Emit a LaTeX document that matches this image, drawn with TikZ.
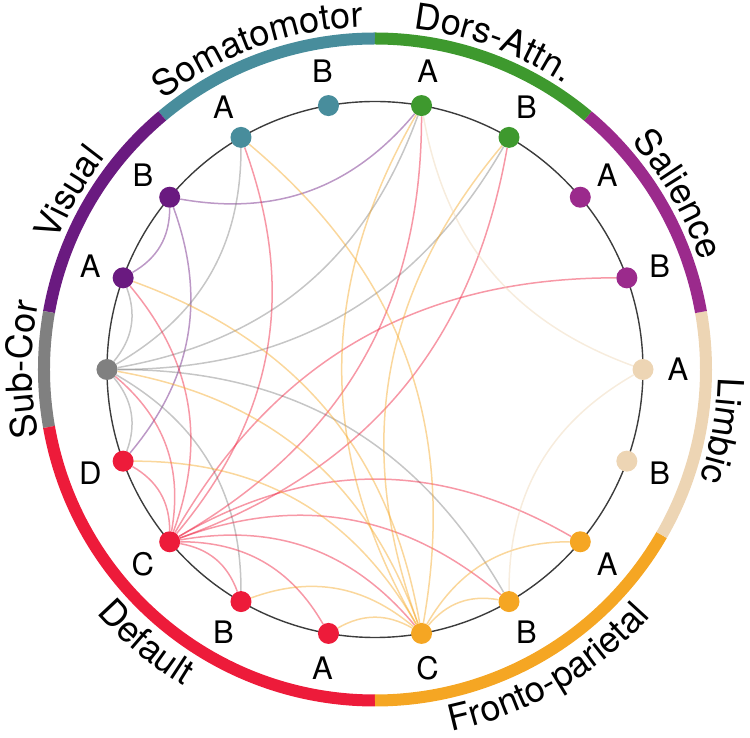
\documentclass[tikz,border=0pt]{standalone}
\usepackage{fontspec}
\setmainfont{TeX Gyre Heros}
\usetikzlibrary{decorations.text}

\definecolor{smcol}{RGB}{72,141,156}
\definecolor{vicol}{RGB}{106,26,128}
\definecolor{sccol}{RGB}{128,128,128}
\definecolor{dfcol}{RGB}{237,27,58}
\definecolor{fpcol}{RGB}{245,166,35}
\definecolor{lbcol}{RGB}{237,213,180}
\definecolor{sacol}{RGB}{155,42,140}
\definecolor{dacol}{RGB}{62,153,46}
\definecolor{rimcol}{RGB}{60,60,60}
\newcommand{\grpfont}{\fontsize{36}{42}\selectfont}

\begin{document}
\begin{tikzpicture}[x=1pt,y=1pt,
  nd/.style={circle,fill=#1,inner sep=0pt,minimum size=21pt},
  lab/.style={font=\fontsize{31}{36}\selectfont,inner sep=0pt},
  seg/.style={line width=12pt,draw=#1},
  lnk/.style={line width=1.5pt,draw=#1,draw opacity=.45,bend left=30},
  grp/.style={decorate,decoration={text along path,text align=center,text={|\grpfont|#1}}}]
  \useasboundingbox (-375,-368.5) rectangle (375,369.5);
  % outer ring
  \draw[seg=smcol] (130:331) arc[start angle=130,end angle=90,radius=331];
  \draw[seg=vicol] (170:331) arc[start angle=170,end angle=130,radius=331];
  \draw[seg=sccol] (190:331) arc[start angle=190,end angle=170,radius=331];
  \draw[seg=dfcol] (270:331) arc[start angle=270,end angle=190,radius=331];
  \draw[seg=fpcol] (330:331) arc[start angle=330,end angle=270,radius=331];
  \draw[seg=lbcol] (10:331) arc[start angle=10,end angle=-30,radius=331];
  \draw[seg=sacol] (50:331) arc[start angle=50,end angle=10,radius=331];
  \draw[seg=dacol] (90:331) arc[start angle=90,end angle=50,radius=331];
  \path[grp=Somatomotor] (130:343) arc[start angle=130,end angle=90,radius=343];
  \path[grp=Visual] (170:343) arc[start angle=170,end angle=130,radius=343];
  \path[grp=Sub-Cor] (200:343) arc[start angle=200,end angle=160,radius=343];
  \path[grp=Default] (190:370) arc[start angle=190,end angle=270,radius=370];
  \path[grp=Fronto-parietal] (270:370) arc[start angle=270,end angle=330,radius=370];
  \path[grp=Limbic] (10:343) arc[start angle=10,end angle=-30,radius=343];
  \path[grp=Salience] (50:343) arc[start angle=50,end angle=10,radius=343];
  \path[grp=Dors-Attn.] (90:343) arc[start angle=90,end angle=50,radius=343];
  % inner circle and regions
  \draw[line width=1.4pt,rimcol] (0,0) circle[radius=268];
  \node[nd=smcol] (smB) at (100:268) {};\node[nd=smcol] (smA) at (120:268) {};
  \node[nd=vicol] (viB) at (140:268) {};\node[nd=vicol] (viA) at (160:268) {};
  \node[nd=sccol] (sc) at (180:268) {};
  \node[nd=dfcol] (dfD) at (200:268) {};\node[nd=dfcol] (dfC) at (220:268) {};
  \node[nd=dfcol] (dfB) at (240:268) {};\node[nd=dfcol] (dfA) at (260:268) {};
  \node[nd=fpcol] (fpC) at (280:268) {};\node[nd=fpcol] (fpB) at (300:268) {};\node[nd=fpcol] (fpA) at (320:268) {};
  \node[nd=lbcol] (lbB) at (340:268) {};\node[nd=lbcol] (lbA) at (0:268) {};
  \node[nd=sacol] (saB) at (20:268) {};\node[nd=sacol] (saA) at (40:268) {};
  \node[nd=dacol] (daB) at (60:268) {};\node[nd=dacol] (daA) at (80:268) {};
  \node[lab] (smBl) at (100:303) {B};\node[lab] (smAl) at (120:303) {A};
  \node[lab] (viBl) at (140:303) {B};\node[lab] (viAl) at (160:303) {A};
  \node[lab] (dfDl) at (200:303) {D};\node[lab] (dfCl) at (220:303) {C};
  \node[lab] (dfBl) at (240:303) {B};\node[lab] (dfAl) at (260:303) {A};
  \node[lab] (fpCl) at (280:303) {C};\node[lab] (fpBl) at (300:303) {B};\node[lab] (fpAl) at (320:303) {A};
  \node[lab] (lbBl) at (340:303) {B};\node[lab] (lbAl) at (0:303) {A};
  \node[lab] (saBl) at (20:303) {B};\node[lab] (saAl) at (40:303) {A};
  \node[lab] (daBl) at (60:303) {B};\node[lab] (daAl) at (80:303) {A};
  % links
  \draw[lnk=vicol] (daA) to (viB);\draw[lnk=vicol] (viB) to (viA);\draw[lnk=vicol] (viB) to (dfD);
  \draw[lnk=sccol] (viA) to (sc);\draw[lnk=sccol] (smA) to (sc);\draw[lnk=sccol] (daA) to (sc);\draw[lnk=sccol] (daB) to (sc);
  \draw[lnk=sccol] (sc) to (dfD);\draw[lnk=sccol] (sc) to (dfB);\draw[lnk=sccol] (sc) to (fpB);
  \draw[lnk=dfcol] (smA) to (dfC);\draw[lnk=dfcol] (viA) to (dfC);\draw[lnk=dfcol] (sc) to (dfC);\draw[lnk=dfcol] (dfD) to (dfC);
  \draw[lnk=dfcol] (dfC) to (dfB);\draw[lnk=dfcol] (dfC) to (dfA);\draw[lnk=dfcol] (dfC) to (fpC);\draw[lnk=dfcol] (dfC) to (fpB);
  \draw[lnk=dfcol] (dfC) to (fpA);\draw[lnk=dfcol] (dfC) to (saB);\draw[lnk=dfcol] (daB) to (dfC);\draw[lnk=dfcol] (daA) to (dfC);
  \draw[lnk=fpcol] (smA) to (fpC);\draw[lnk=fpcol] (viA) to (fpC);\draw[lnk=fpcol] (sc) to (fpC);\draw[lnk=fpcol] (dfD) to (fpC);
  \draw[lnk=fpcol] (dfB) to (fpC);\draw[lnk=fpcol] (dfA) to (fpC);\draw[lnk=fpcol] (fpC) to (fpB);\draw[lnk=fpcol] (fpC) to (fpA);
  \draw[lnk=fpcol] (fpC) to (daA);\draw[lnk=fpcol] (fpC) to (daB);
  \draw[lnk=lbcol] (lbA) to (daA);\draw[lnk=lbcol] (fpB) to (lbA);
\end{tikzpicture}
\end{document}
